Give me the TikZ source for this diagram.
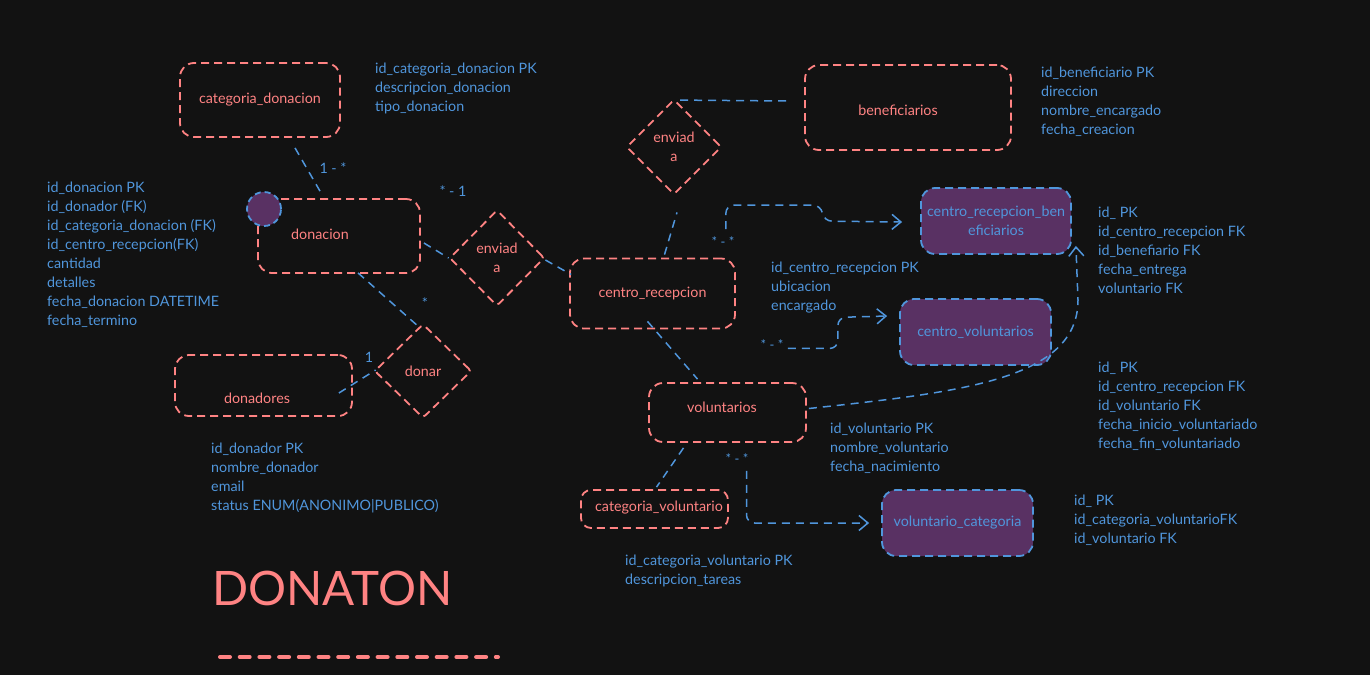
\documentclass[tikz,border=0pt]{standalone}
\usepackage{fontspec}
\setmainfont{Lato}
\usetikzlibrary{shapes.geometric,arrows.meta}
\definecolor{bg}{HTML}{121212}
\definecolor{salmon}{HTML}{FF8383}
\definecolor{eblue}{HTML}{5096DC}
\definecolor{epurple}{HTML}{593163}
\newcommand\fsmain{\fontsize{14.3}{19}\selectfont}
\newcommand\fssmall{\fontsize{13}{15}\selectfont}
\begin{document}
\begin{tikzpicture}[x=1pt,y=-1pt,
  ent/.style={draw=salmon, line width=1.8pt, dash pattern=on 8pt off 5pt, rounded corners=14pt, inner sep=0pt, text=salmon, font=\fsmain},
  rel/.style={draw=salmon, line width=1.8pt, dash pattern=on 8pt off 5pt, diamond, aspect=1, rounded corners=3pt, inner sep=0pt, text=salmon, align=center, font=\fsmain},
  assoc/.style={draw=eblue, fill=epurple, line width=1.8pt, dash pattern=on 8pt off 5pt, rounded corners=14pt, inner sep=0pt, text=eblue, align=center, font=\fsmain},
  etext/.style={text=salmon, inner sep=0pt, font=\fsmain},
  attr/.style={text=eblue, anchor=north west, align=left, inner sep=0pt, font=\fsmain},
  card/.style={text=eblue, inner sep=0pt, font=\fsmain},
  cards/.style={text=eblue, inner sep=0pt, font=\fssmall},
  conn/.style={draw=eblue, line width=1.5pt, dash pattern=on 8pt off 6pt},
  arr/.style={-{Straight Barb[length=9pt,width=15pt,line width=1.5pt]}}
]
\fill[bg] (0,0) rectangle (1370,675);
\useasboundingbox (0,0) rectangle (1370,675);

% entities
\node[ent, minimum width=160pt, minimum height=74pt] (catdon) at (260,100) {categoria\_donacion};
\node[ent, minimum width=162pt, minimum height=74pt] (don) at (339,236) {};
\node[etext] (tdon) at (320,234) {donacion};
\node[circle, draw=eblue, fill=epurple, line width=1.8pt, dash pattern=on 6pt off 4pt, minimum size=34pt, inner sep=0pt] (dot) at (264,209) {};
\node[ent, minimum width=165pt, minimum height=70pt] (cr) at (652.5,293.5) {centro\_recepcion};
\node[ent, minimum width=206pt, minimum height=85pt] (ben) at (908,107.5) {};
\node[etext] (tben) at (898,110) {beneficiarios};
\node[ent, minimum width=157pt, minimum height=59pt] (vol) at (727.5,412.5) {};
\node[etext] (tvol) at (722,407) {voluntarios};
\node[ent, minimum width=147pt, minimum height=38pt, rounded corners=10pt] (catvol) at (654.5,509) {};
\node[etext] (tcatvol) at (659,508) {categoria\_voluntario};
\node[ent, minimum width=177pt, minimum height=61pt] (donadores) at (263.5,385.5) {};
\node[etext] (tdonadores) at (257,398) {donadores};

% associative entities
\node[assoc, minimum width=150pt, minimum height=66pt] (crb) at (996,221) {centro\_recepcion\_ben\\eficiarios};
\node[assoc, minimum width=151pt, minimum height=66pt] (cv) at (975.5,332) {centro\_voluntarios};
\node[assoc, minimum width=151pt, minimum height=66pt] (volcat) at (957.5,523) {voluntario\_categoria};

% relations
\node[rel, minimum width=95pt, minimum height=96pt] (d1) at (497,258) {enviad\\a};
\node[rel, minimum width=95pt, minimum height=95pt] (d2) at (674,147) {enviad\\a};
\node[rel, minimum width=97pt, minimum height=94pt] (donar) at (423,371) {donar};

% attributes
\node[attr] (acatdon) at (375,59.7) {\strut id\_categoria\_donacion PK\\descripcion\_donacion\\tipo\_donacion};
\node[attr] (adon) at (47,178.7) {\strut id\_donacion PK\\id\_donador (FK)\\id\_categoria\_donacion (FK)\\id\_centro\_recepcion(FK)\\cantidad\\detalles\\fecha\_donacion DATETIME\\fecha\_termino};
\node[attr] (aben) at (1041,63.7) {\strut id\_beneficiario PK\\direccion\\nombre\_encargado\\fecha\_creacion};
\node[attr] (acrb) at (1098,203.7) {\strut id\_ PK\\id\_centro\_recepcion FK\\id\_benefiario FK\\fecha\_entrega\\voluntario FK};
\node[attr] (acr) at (771,258.7) {\strut id\_centro\_recepcion PK\\ubicacion\\encargado};
\node[attr] (acv) at (1098,358.7) {\strut id\_ PK\\id\_centro\_recepcion FK\\id\_voluntario FK\\fecha\_inicio\_voluntariado\\fecha\_fin\_voluntariado};
\node[attr] (avol) at (830,419.7) {\strut id\_voluntario PK\\nombre\_voluntario\\fecha\_nacimiento};
\node[attr] (adonadores) at (211,439.7) {\strut id\_donador PK\\nombre\_donador\\email\\status ENUM(ANONIMO|PUBLICO)};
\node[attr] (acatvol) at (625,551.7) {\strut id\_categoria\_voluntario PK\\descripcion\_tareas};
\node[attr] (avolcat) at (1074,491.7) {\strut id\_ PK\\id\_categoria\_voluntarioFK\\id\_voluntario FK};

% cardinalities
\node[card] (k1) at (333,168) {1 - *};
\node[card] (k2) at (453,191) {* - 1};
\node[card] (k3) at (425,303) {*};
\node[card] (k4) at (369,357) {1};
\node[cards] (k5) at (723,242) {* - *};
\node[cards] (k6) at (772,345) {* - *};
\node[cards] (k7) at (737,459) {* - *};

% connectors
\draw[conn] ([shift={(35,10)}]catdon.south) -- ([shift={(-19,-7)}]don.north);
\draw[conn] ([shift={(3,7)}]don.east) -- (d1.west);
\draw[conn] ([shift={(0,2)}]d1.east) -- ([shift={(2,-19)}]cr.west);
\draw[conn] ([shift={(12,-3)}]cr.north) -- ([shift={(3,17)}]d2.south);
\draw[conn] ([shift={(6,1.5)}]d2.north) -- ([shift={(-17,-6.5)}]ben.west);
\draw[conn, arr, rounded corners=8pt] ([shift={(-10,-28.5)}]cr.north east) |- ++(95,-24) -- ++(3,16) -- ([shift={(-18,1)}]crb.west);
\draw[conn, arr, rounded corners=8pt] ([shift={(52,19)}]cr.south east) -| ++(50,-31) -- ([shift={(-12,-16)}]cv.west);
\draw[conn, arr] ([shift={(2,-4)}]vol.east) .. controls (960,392) and (1078,380) .. (1078,300) -- ([shift={(4,-9)}]crb.south east);
\draw[conn] ([shift={(-5,-8)}]cr.south) -- ([shift={(-30,-3)}]vol.north);
\draw[conn] ([shift={(-44,5)}]vol.south) -- ([shift={(2,-2)}]catvol.north);
\draw[conn, arr, rounded corners=8pt] ([shift={(19,28)}]vol.south) |- ([shift={(-12,0)}]volcat.west);
\draw[conn] ([shift={(19,-1)}]don.south) -- ([shift={(-5,3)}]donar.north);
\draw[conn] ([shift={(-14,7.5)}]donadores.east) -- ([shift={(2,-1)}]donar.west);

% title
\node[text=salmon, font=\fontsize{47.5}{52}\selectfont, anchor=base west, inner sep=0pt] (title) at (212,605) {DONATON};
\coordinate (ul1) at (220,657);
\coordinate (ul2) at (498,657);
\draw[salmon, line width=4pt, line cap=round, dash pattern=on 10pt off 9.7pt] (ul1) -- (ul2);
\end{tikzpicture}
\end{document}
